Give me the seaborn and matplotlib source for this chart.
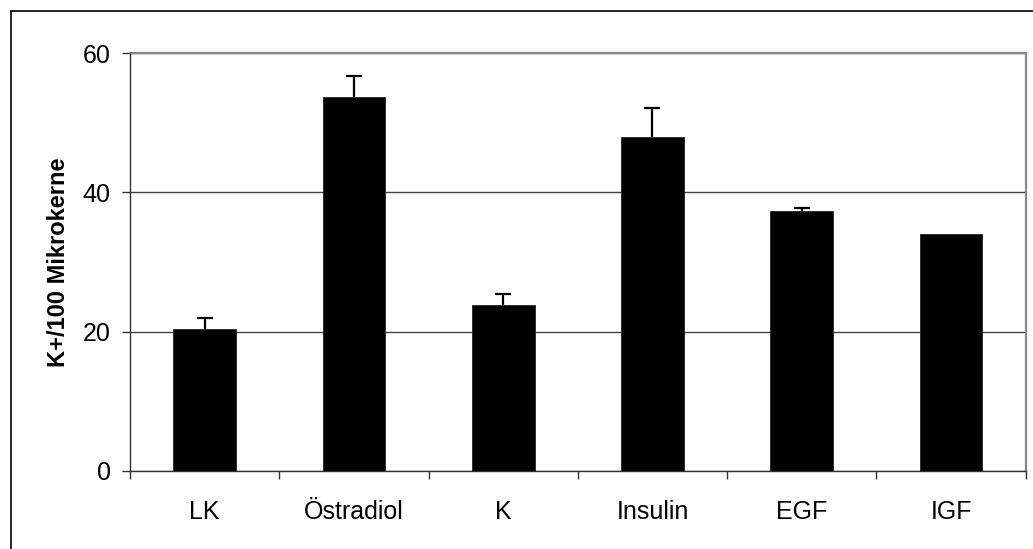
import matplotlib
matplotlib.use("Agg")
import matplotlib.pyplot as plt
from matplotlib.lines import Line2D
import numpy as np
import pandas as pd
import seaborn as sns

# Treatment groups and measured values (mean and upper error)
categories = ["LK", "Östradiol", "K", "Insulin", "EGF", "IGF"]
means = [20.4, 53.7, 23.8, 48.0, 37.4, 34.0]
errors = [1.6, 3.0, 1.6, 4.2, 0.4, 0.0]
y_ticks = [0, 20, 40, 60]
y_label = "K+/100 Mikrokerne"

df = pd.DataFrame({"Gruppe": categories, "Wert": means})

sns.set_theme(style="white")
plt.rcParams["font.family"] = ["Liberation Sans", "DejaVu Sans"]

fig = plt.figure(figsize=(10.33, 5.49), dpi=100)
ax = fig.add_axes([130 / 1033, 1 - 470.7 / 549, (1025.7 - 130) / 1033, (470.7 - 53.3) / 549])

sns.barplot(data=df, x="Gruppe", y="Wert", order=categories, color="black",
            width=0.42, errorbar=None, ax=ax, zorder=3, saturation=1,
            edgecolor="#222222", linewidth=0.6)

# upper-only error bars, skipped where there is no spread
x_pos = np.arange(len(categories))
has_err = [i for i, e in enumerate(errors) if e > 0]
ex = x_pos[has_err]
ey = np.array(means)[has_err]
ee = np.array(errors)[has_err]
_, caps, _ = ax.errorbar(ex, ey, yerr=[np.zeros(len(ee)), ee], fmt="none",
                         ecolor="black", elinewidth=1.6, capsize=6,
                         capthick=1.6, zorder=4)
caps[0].set_visible(False)

ax.set_ylim(0, 60)
ax.set_xlim(-0.5, len(categories) - 0.5)
ax.set_yticks(y_ticks)
ax.set_yticklabels([str(v) for v in y_ticks])

# category boundaries carry the x ticks, labels sit centred under bars
ax.set_xticks(np.arange(-0.5, len(categories), 1.0))
ax.set_xticklabels([])
ax.set_xticks(x_pos, minor=True)
ax.set_xticklabels(categories, minor=True)
ax.tick_params(axis="x", which="minor", length=0, pad=21, labelsize=18,
               colors="black")
ax.tick_params(axis="x", which="major", direction="out", length=6, width=1.0,
               color="#333333", bottom=True)
ax.tick_params(axis="y", direction="out", length=6, width=1.0, color="#333333",
               left=True, pad=8, labelsize=18, labelcolor="black")

ax.set_xlabel("")
ax.set_ylabel(y_label, fontsize=17, fontweight="bold", color="black", labelpad=9)

ax.yaxis.grid(True, color="#444444", linewidth=1.0, zorder=0)
ax.set_axisbelow(True)

for side in ("left", "bottom"):
    ax.spines[side].set_color("#333333")
    ax.spines[side].set_linewidth(1.0)
    ax.spines[side].set_zorder(5)
for side in ("top", "right"):
    ax.spines[side].set_visible(True)
    ax.spines[side].set_color("#888888")
    ax.spines[side].set_linewidth(1.6)

# chart area frame (left and top edges)
fx = 10.5 / 1033
fy = 1 - 10.5 / 549
fig.add_artist(Line2D([fx, fx], [-0.01, fy], transform=fig.transFigure,
                      color="black", linewidth=1.2))
fig.add_artist(Line2D([fx, 1.01], [fy, fy], transform=fig.transFigure,
                      color="black", linewidth=1.2))

fig.savefig("out.png", dpi=100, facecolor="white")
